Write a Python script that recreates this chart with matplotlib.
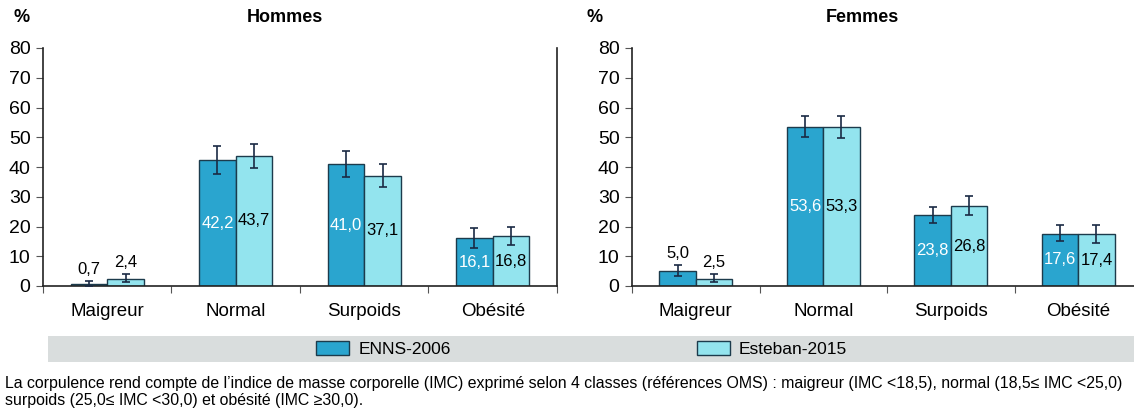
import numpy as np
import matplotlib
matplotlib.use("Agg")
import matplotlib.pyplot as plt
from matplotlib.patches import Rectangle, Patch

plt.rcParams['font.family'] = ['Liberation Sans', 'DejaVu Sans']

categories = ["Maigreur", "Normal", "Surpoids", "Obésité"]
series = ["ENNS-2006", "Esteban-2015"]

# Hommes
h_enns = [0.7, 42.2, 41.0, 16.1]
h_enns_lo = [0.0, 37.8, 36.5, 12.8]
h_enns_hi = [1.8, 47.0, 45.4, 19.5]
h_est = [2.4, 43.7, 37.1, 16.8]
h_est_lo = [1.2, 39.7, 33.4, 13.8]
h_est_hi = [4.0, 47.7, 40.9, 19.9]

# Femmes
f_enns = [5.0, 53.6, 23.8, 17.6]
f_enns_lo = [3.3, 50.1, 21.3, 15.0]
f_enns_hi = [7.1, 57.1, 26.6, 20.6]
f_est = [2.5, 53.3, 26.8, 17.4]
f_est_lo = [1.4, 49.7, 24.0, 14.4]
f_est_hi = [4.0, 57.1, 30.3, 20.6]

C_ENNS = "#2aa5cf"
C_EST = "#93e4ee"
EDGE = "#1c3b4c"
ERR = "#1a2a44"

fig = plt.figure(figsize=(11.34, 4.16), dpi=100)
ax_h = fig.add_axes([43 / 1134, 1 - 286 / 416, 514 / 1134, 238 / 416])
ax_f = fig.add_axes([632 / 1134, 1 - 286 / 416, 510 / 1134, 238 / 416])


def draw_panel(ax, title, enns, elo, ehi, est, slo, shi, title_x):
    x = np.arange(len(categories))
    w = 0.285
    vals = [(enns, elo, ehi, C_ENNS, "white", -w / 2),
            (est, slo, shi, C_EST, "black", w / 2)]
    for v, lo, hi, col, tcol, off in vals:
        v = np.array(v)
        yerr = [v - np.array(lo), np.array(hi) - v]
        ax.bar(x + off, v, w, color=col, edgecolor=EDGE, linewidth=1.0, zorder=2)
        ax.errorbar(x + off, v, yerr=yerr, fmt="none", ecolor=ERR,
                    elinewidth=1.2, capsize=3, capthick=1.2, zorder=3)
        for xi, vi, hv in zip(x + off, v, hi):
            lab = f"{vi:.1f}".replace(".", ",")
            if vi > 10:
                ax.text(xi, vi / 2, lab, ha="center", va="center",
                        fontsize=12, color=tcol, zorder=4)
            else:
                ax.text(xi, hv + 1.3, lab, ha="center", va="bottom",
                        fontsize=12, color="black", zorder=4)
    ax.set_xlim(-0.5, len(categories) - 0.5)
    ax.set_ylim(0, 80)
    ax.set_yticks(range(0, 81, 10))
    ax.set_yticklabels([str(t) for t in range(0, 81, 10)], fontsize=14)
    ax.set_xticks(np.arange(len(categories) + 1) - 0.5, minor=False)
    ax.set_xticklabels([])
    ax.set_xticks(x, minor=True)
    ax.set_xticklabels(categories, minor=True, fontsize=13.5)
    ax.tick_params(axis="x", which="minor", length=0, pad=12)
    ax.tick_params(axis="x", which="major", length=5, width=0.8, direction="out", color="#555555")
    ax.tick_params(axis="y", length=5, width=0.8, pad=4, color="#555555")
    for s in ["left", "bottom", "right"]:
        ax.spines[s].set_linewidth(1.2)
        ax.spines[s].set_color("#222222")
    ax.spines["top"].set_visible(False)
    fig.text(title_x, 1 - 18 / 416, title, ha="center", va="center",
             fontsize=13, fontweight="bold")


draw_panel(ax_h, "Hommes", h_enns, h_enns_lo, h_enns_hi, h_est, h_est_lo, h_est_hi, 285 / 1134)
draw_panel(ax_f, "Femmes", f_enns, f_enns_lo, f_enns_hi, f_est, f_est_lo, f_est_hi, 862 / 1134)

fig.text(22 / 1134, 1 - 18 / 416, "%", ha="center", va="center", fontsize=13, fontweight="bold")
fig.text(595 / 1134, 1 - 18 / 416, "%", ha="center", va="center", fontsize=13, fontweight="bold")

# legend band
fig.patches.append(Rectangle((48 / 1134, 1 - 362 / 416), 1 - 48 / 1134, 26 / 416,
                             transform=fig.transFigure, facecolor="#d9dddd",
                             edgecolor="none", zorder=0))
handles = [Patch(facecolor=C_ENNS, edgecolor=EDGE, label=series[0]),
           Patch(facecolor=C_EST, edgecolor=EDGE, label=series[1])]
fig.legend(handles=handles, loc="center", bbox_to_anchor=(0.513, 1 - 349 / 416),
           ncol=2, frameon=False, fontsize=12.5, handlelength=1.9, handleheight=0.9,
           columnspacing=14.2, handletextpad=0.5)

caption = ("La corpulence rend compte de l\u2019indice de masse corporelle (IMC) exprimé selon 4 classes "
           "(références OMS) : maigreur (IMC <18,5), normal (18,5\u2264 IMC <25,0)\n"
           "surpoids (25,0\u2264 IMC <30,0) et obésité (IMC \u226530,0).")
fig.text(5 / 1134, 1 - 376 / 416, caption, ha="left", va="top", fontsize=11.4,
         linespacing=1.2)

fig.savefig("out.png", dpi=100)
